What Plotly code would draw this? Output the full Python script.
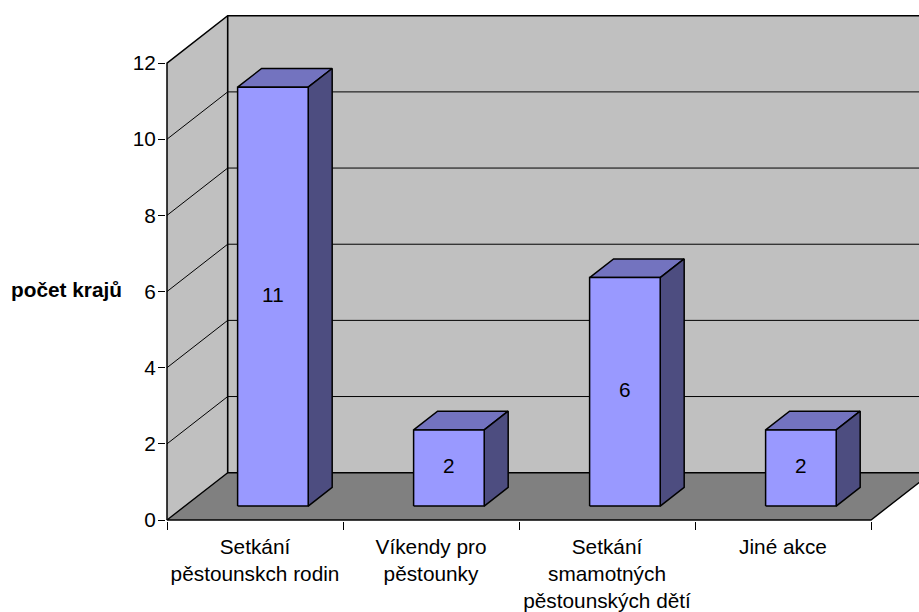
import plotly.graph_objects as go

categories = ["Setkání<br>pěstounskch rodin", "Víkendy pro<br>pěstounky",
              "Setkání<br>smamotných<br>pěstounských dětí", "Jiné akce"]
values = [11, 2, 6, 2]
y_ticks = [0, 2, 4, 6, 8, 10, 12]

W, H = 919, 612
PX_X, PX_Y = 176.0, 38.08
LEFT, BASE, TOP = 167, 520, 16
DX, DY = 60.7 / PX_X, 47.3 / PX_Y
D0, D1 = 0.295, 0.69
BW = 70.6 / PX_X
N = len(categories)
YMAX = y_ticks[-1]
FS = 20.8

WALL, FLOOR = "#C0C0C0", "#808080"
FRONT, TOPC, SIDE = "#9999FF", "#7373BF", "#4D4D80"


def P(x, v, d=0.0):
    return x + d * DX, v + d * DY


fig = go.Figure()


def poly(pts, fill=None, width=1.0):
    xs = [p[0] for p in pts]
    ys = [p[1] for p in pts]
    if fill:
        xs.append(xs[0])
        ys.append(ys[0])
    fig.add_trace(go.Scatter(x=xs, y=ys, mode="lines", fill="toself" if fill else None,
                             fillcolor=fill, line=dict(color="black", width=width),
                             hoverinfo="skip", showlegend=False))


def fillonly(pts, fill):
    xs = [p[0] for p in pts] + [pts[0][0]]
    ys = [p[1] for p in pts] + [pts[0][1]]
    fig.add_trace(go.Scatter(x=xs, y=ys, mode="lines", fill="toself", fillcolor=fill,
                             line=dict(width=0), hoverinfo="skip", showlegend=False))


# walls and floor
fillonly([P(0, 0), P(0, 0, 1), P(0, YMAX, 1), P(0, YMAX)], WALL)
fillonly([P(0, 0, 1), P(N, 0, 1), P(N, YMAX, 1), P(0, YMAX, 1)], WALL)
fillonly([P(0, 0), P(N, 0), P(N, 0, 1), P(0, 0, 1)], FLOOR)

# gridlines
for v in y_ticks[1:-1]:
    poly([P(0, v), P(0, v, 1), P(N, v, 1)], width=1.0)
poly([P(0, 0), P(0, YMAX), P(0, YMAX, 1), P(N, YMAX, 1)], width=1.5)
poly([P(0, YMAX, 1), P(0, 0, 1), P(N, 0, 1)], width=1.6)
poly([P(0, 0, 1), P(0, 0), P(N, 0), P(N, 0, 1)], width=1.4)

# bars
for i, v in enumerate(values):
    x0 = i + 0.5 - BW / 2
    x1 = i + 0.5 + BW / 2
    poly([P(x0, v, D0), P(x1, v, D0), P(x1, v, D1), P(x0, v, D1)], TOPC, 1.5)
    poly([P(x1, 0, D0), P(x1, v, D0), P(x1, v, D1), P(x1, 0, D1)], SIDE, 1.5)
    poly([P(x0, 0, D0), P(x1, 0, D0), P(x1, v, D0), P(x0, v, D0)], FRONT, 1.5)
    cx, cy = P(i + 0.5, v / 2, D0)
    fig.add_trace(go.Scatter(x=[cx], y=[cy], mode="text", text=[str(v)],
                             textfont=dict(family="Liberation Sans", size=FS, color="black"),
                             hoverinfo="skip", showlegend=False))

fig.update_layout(
    width=W, height=H, autosize=False,
    margin=dict(l=LEFT - 1, r=0, t=TOP - 2, b=H - BASE - 1, pad=0, autoexpand=False),
    paper_bgcolor="white", plot_bgcolor="white", showlegend=False,
    font=dict(family="Liberation Sans", size=FS, color="black"),
    xaxis=dict(range=[-1 / PX_X, (W - LEFT) / PX_X], showgrid=False, zeroline=False, showline=False,
               automargin=False,
               tickmode="array", tickvals=[i + 0.5 for i in range(N)],
               ticktext=categories,
               ticks="outside", ticklen=7, tickcolor="rgba(0,0,0,0)",
               minor=dict(tickmode="array", tickvals=list(range(N + 1)), ticks="outside",
                          ticklen=8, tickcolor="black", tickwidth=1, showgrid=False),
               tickfont=dict(family="Liberation Sans", size=FS, color="black")),
    yaxis=dict(range=[-1 / PX_Y, (BASE - TOP + 2) / PX_Y], showgrid=False, zeroline=False, showline=False,
               automargin=False, ticklabelstandoff=-2,
               tickmode="array", tickvals=y_ticks, ticks="outside", ticklen=7, tickcolor="black",
               tickwidth=1, tickfont=dict(family="Liberation Sans", size=FS, color="black")),
)

fig.add_annotation(x=0, xref="paper", y=6, yref="y", xanchor="right", xshift=-42, yshift=2,
                   text="<b>počet krajů</b>", showarrow=False,
                   font=dict(family="Liberation Sans", size=FS, color="black"))

fig.write_html("out.html", post_script="document.body.style.margin='0';",
               config=dict(displayModeBar=False))
